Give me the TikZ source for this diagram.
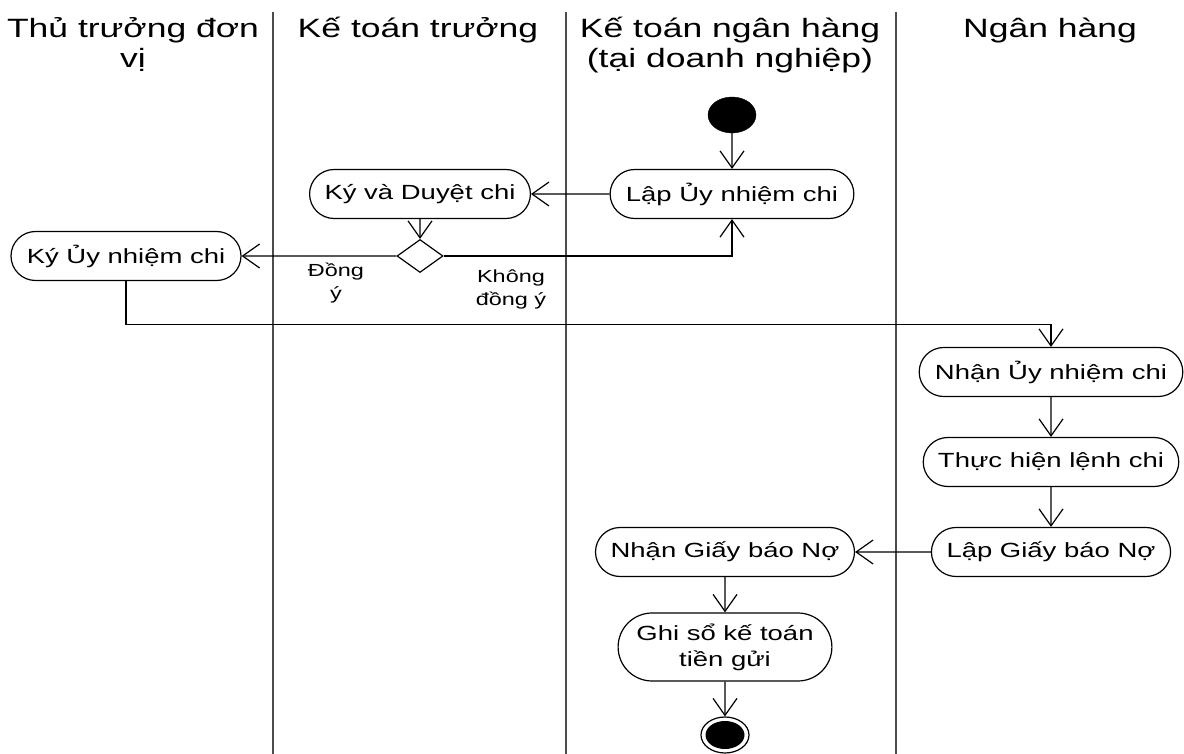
\documentclass[tikz,border=0pt]{standalone}
\usepackage{fontspec}
\setmainfont{Liberation Sans}[FakeStretch=1.34]
\usetikzlibrary{shapes.geometric,shapes.misc,arrows.meta}

\begin{document}
\begin{tikzpicture}[x=1pt,y=-1pt,
    act/.style={draw,line width=1.2pt,rounded rectangle,minimum height=49pt,inner xsep=13pt,font=\fontsize{20.5}{26}\selectfont,align=center},
    flow/.style={-{Straight Barb[length=17pt,width=24pt]},line width=1.2pt},
    lbl/.style={font=\fontsize{17.5}{23}\selectfont,align=center},
    hdr/.style={font=\fontsize{26.5}{30}\selectfont,align=center,anchor=base}]
        \useasboundingbox (0,0) rectangle (1184,754);
        \foreach \x in {273,566,896}
        \draw[line width=2pt,black!70] (\x,12) -- (\x,754);
        \node[hdr] (thutruong) at (133,68) {Thủ trưởng đơn\\vị};
        \node[hdr] (ketoantruong) at (418,38) {Kế toán trưởng};
        \node[hdr] (ketoannh) at (730,68) {Kế toán ngân hàng\\(tại doanh nghiệp)};
        \node[hdr] (nganhang) at (1050,38) {Ngân hàng};
        \node[draw,fill=black,ellipse,minimum width=48pt,minimum height=36pt,inner sep=0] (start) at (732,115) {};
        \node[act] (lap) at (732,194) {Lập Ủy nhiệm chi};
        \node[act] (kyduyet) at (420,194) {Ký và Duyệt chi};
        \node[draw,diamond,line width=1.2pt,minimum width=46pt,minimum height=33pt,inner sep=0] (dec) at (420,256) {};
        \node[act] (kyuy) at (126,256) {Ký Ủy nhiệm chi};
        \node[lbl] (dongy) at (336,283) {Đồng\\ý};
        \node[lbl] (khongdongy) at (511,289) {Không\\đồng ý};
        \node[act] (nhanuy) at (1051,372) {Nhận Ủy nhiệm chi};
        \node[act] (thuchien) at (1051,462) {Thực hiện lệnh chi};
        \node[act] (lapgiay) at (1051,552) {Lập Giấy báo Nợ};
        \node[act] (nhangiay) at (725,552) {Nhận Giấy báo Nợ};
        \node[act,minimum height=68pt,inner xsep=9pt] (ghiso) at (725,647) {Ghi sổ kế toán\\tiền gửi};
        \node[draw,ellipse,line width=1.2pt,minimum width=48pt,minimum height=36pt,inner sep=0] (stop) at (725,735) {};
        \fill (stop.center) ellipse [x radius=19.5, y radius=14];
        \draw[flow] (start) -- (lap);
        \draw[flow] (lap) -- (kyduyet);
        \draw[flow] (kyduyet) -- (dec);
        \draw[flow] (dec) -- (kyuy);
        \draw[flow] (dec.east) -| (lap.south);
        \draw[flow] (kyuy.south) -- ++(0,43.5) -| (nhanuy.north);
        \draw[flow] (nhanuy) -- (thuchien);
        \draw[flow] (thuchien) -- (lapgiay);
        \draw[flow] (lapgiay) -- (nhangiay);
        \draw[flow] (nhangiay) -- (ghiso);
        \draw[flow] (ghiso) -- (stop);
\end{tikzpicture}
\end{document}
